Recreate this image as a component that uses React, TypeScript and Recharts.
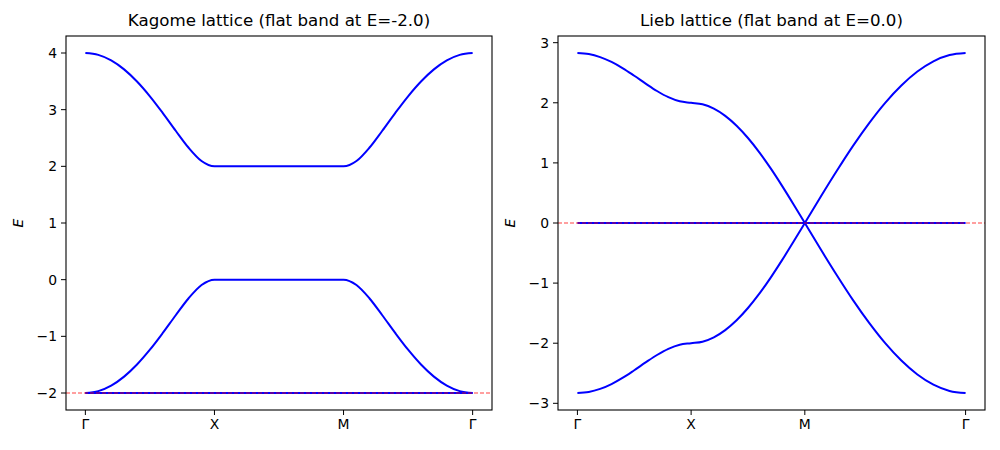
import React from 'react';
import { LineChart, Line, XAxis, YAxis, ReferenceLine } from 'recharts';

const FONT = '"DejaVu Sans", sans-serif';
const BLUE = '#0000ff';
const PATH_LABELS = ['Γ', 'X', 'M', 'Γ'];

// Kagome: path Γ-X-M-Γ, equal segment lengths
const kagomeX = [0, 0.1, 0.2, 0.3, 0.4, 0.5, 0.6, 0.7, 0.8, 0.9, 1, 2, 2.1, 2.2, 2.3, 2.4, 2.5, 2.6, 2.7, 2.8, 2.9, 3];
const kagomeUpper = [4, 3.967, 3.87, 3.711, 3.497, 3.236, 2.94, 2.628, 2.328, 2.094, 2, 2, 2.094, 2.328, 2.628, 2.94, 3.236, 3.497, 3.711, 3.87, 3.967, 4];
const kagomeMiddle = [-2, -1.967, -1.87, -1.711, -1.497, -1.236, -0.94, -0.628, -0.328, -0.094, 0, 0, -0.094, -0.328, -0.628, -0.94, -1.236, -1.497, -1.711, -1.87, -1.967, -2];
const kagomeFlat = -2;
const kagomeTicks = [0, 1, 2, 3];
const kagomeYTicks = [-2, -1, 0, 1, 2, 3, 4];

// Lieb: Γ-X-M (length 1 each) then M-Γ (length √2)
const liebX1 = [0, 0.1, 0.2, 0.3, 0.4, 0.5, 0.6, 0.7, 0.8, 0.9, 1, 1.1, 1.2, 1.3, 1.4, 1.5, 1.6, 1.7, 1.8, 1.9, 2];
const liebUpper1 = [2.828, 2.811, 2.76, 2.679, 2.573, 2.449, 2.32, 2.196, 2.093, 2.024, 2, 1.975, 1.902, 1.782, 1.618, 1.414, 1.176, 0.908, 0.618, 0.313, 0];
const liebLower1 = [-2.828, -2.811, -2.76, -2.679, -2.573, -2.449, -2.32, -2.196, -2.093, -2.024, -2, -1.975, -1.902, -1.782, -1.618, -1.414, -1.176, -0.908, -0.618, -0.313, 0];
const liebX2 = [2, 2.141, 2.283, 2.424, 2.566, 2.707, 2.849, 2.99, 3.131, 3.273, 3.414];
const liebUpper2 = [0, 0.442, 0.874, 1.284, 1.663, 2, 2.288, 2.52, 2.69, 2.794, 2.828];
const liebLower2 = [0, -0.442, -0.874, -1.284, -1.663, -2, -2.288, -2.52, -2.69, -2.794, -2.828];
const liebFlat = 0;
const liebTicks = [0, 1, 2, 3.414];
const liebYTicks = [-3, -2, -1, 0, 1, 2, 3];

const toRows = (xs: number[], ys: number[]) => xs.map((x, i) => ({ x, e: ys[i] }));

const tickStyle = { fill: '#000', fontSize: 13.9, fontFamily: FONT };
const minus = (v: number) => String(v).replace('-', '\u2212');

type PanelProps = {
  left: number;
  yAxisWidth: number;
  rightMargin: number;
  xDomain: [number, number];
  yDomain: [number, number];
  xTicks: number[];
  yTicks: number[];
  flat: number;
  bands: Array<{ x: number; e: number }[]>;
  title: string;
};

function Panel({ left, yAxisWidth, rightMargin, xDomain, yDomain, xTicks, yTicks, flat, bands, title }: PanelProps) {
  const plotLeft = left + yAxisWidth;
  const plotRight = left + 500 - rightMargin;
  const flatRows = [{ x: xTicks[0], e: flat }, { x: xTicks[xTicks.length - 1], e: flat }];
  return (
    <>
      <div
        style={{
          position: 'absolute', left: plotLeft, width: plotRight - plotLeft, top: 11,
          textAlign: 'center', fontFamily: FONT, fontSize: 16.67, color: '#000', whiteSpace: 'nowrap',
        }}
      >
        {title}
      </div>
      <div
        style={{
          position: 'absolute', left: plotLeft - 58, top: 223, width: 20, height: 20, marginTop: -10,
          display: 'flex', alignItems: 'center', justifyContent: 'center',
          transform: 'rotate(-90deg)', fontFamily: FONT, fontStyle: 'italic', fontSize: 13.9,
        }}
      >
        E
      </div>
      <div style={{ position: 'absolute', left, top: 0 }}>
        <LineChart width={500} height={450} margin={{ top: 36, right: rightMargin, bottom: 0, left: 0 }}>
          <XAxis
            dataKey="x" type="number" domain={xDomain} ticks={xTicks} allowDataOverflow
            height={40} tickSize={5} tickMargin={4} interval={0}
            tickFormatter={(_v: number, i: number) => PATH_LABELS[i]}
            axisLine={false} tickLine={{ stroke: '#000' }} tick={tickStyle}
          />
          <YAxis
            type="number" domain={yDomain} ticks={yTicks} allowDataOverflow interval={0}
            width={yAxisWidth} tickSize={5} tickMargin={4}
            tickFormatter={minus} axisLine={false} tickLine={{ stroke: '#000' }} tick={tickStyle}
          />
          {bands.map((rows, i) => (
            <Line key={i} data={rows} dataKey="e" type="monotone" stroke={BLUE} strokeWidth={2} dot={false} isAnimationActive={false} />
          ))}
          <Line data={flatRows} dataKey="e" type="linear" stroke={BLUE} strokeWidth={2} dot={false} isAnimationActive={false} />
          <ReferenceLine y={flat} stroke="rgba(255,0,0,0.75)" strokeWidth={1.1} strokeDasharray="4 2" />
        </LineChart>
      </div>
      {/* axes frame */}
      <svg
        width={500} height={450}
        style={{ position: 'absolute', left, top: 0, pointerEvents: 'none' }}
      >
        <rect
          x={yAxisWidth} y={36} width={500 - rightMargin - yAxisWidth} height={374}
          fill="none" stroke="#000" strokeWidth={1.1}
        />
      </svg>
    </>
  );
}

export default function App() {
  return (
    <div style={{ position: 'absolute', left: 0, top: 0, width: 1000, height: 450, background: '#fff', overflow: 'hidden' }}>
      <Panel
        left={0} yAxisWidth={66} rightMargin={8}
        xDomain={[-0.15, 3.15]} yDomain={[-2.3, 4.3]}
        xTicks={kagomeTicks} yTicks={kagomeYTicks} flat={kagomeFlat}
        bands={[toRows(kagomeX, kagomeUpper), toRows(kagomeX, kagomeMiddle)]}
        title="Kagome lattice (flat band at E=-2.0)"
      />
      <Panel
        left={500} yAxisWidth={58} rightMargin={15}
        xDomain={[-0.1707, 3.5847]} yDomain={[-3.111, 3.111]}
        xTicks={liebTicks} yTicks={liebYTicks} flat={liebFlat}
        bands={[toRows(liebX1, liebUpper1), toRows(liebX1, liebLower1), toRows(liebX2, liebUpper2), toRows(liebX2, liebLower2)]}
        title="Lieb lattice (flat band at E=0.0)"
      />
    </div>
  );
}
